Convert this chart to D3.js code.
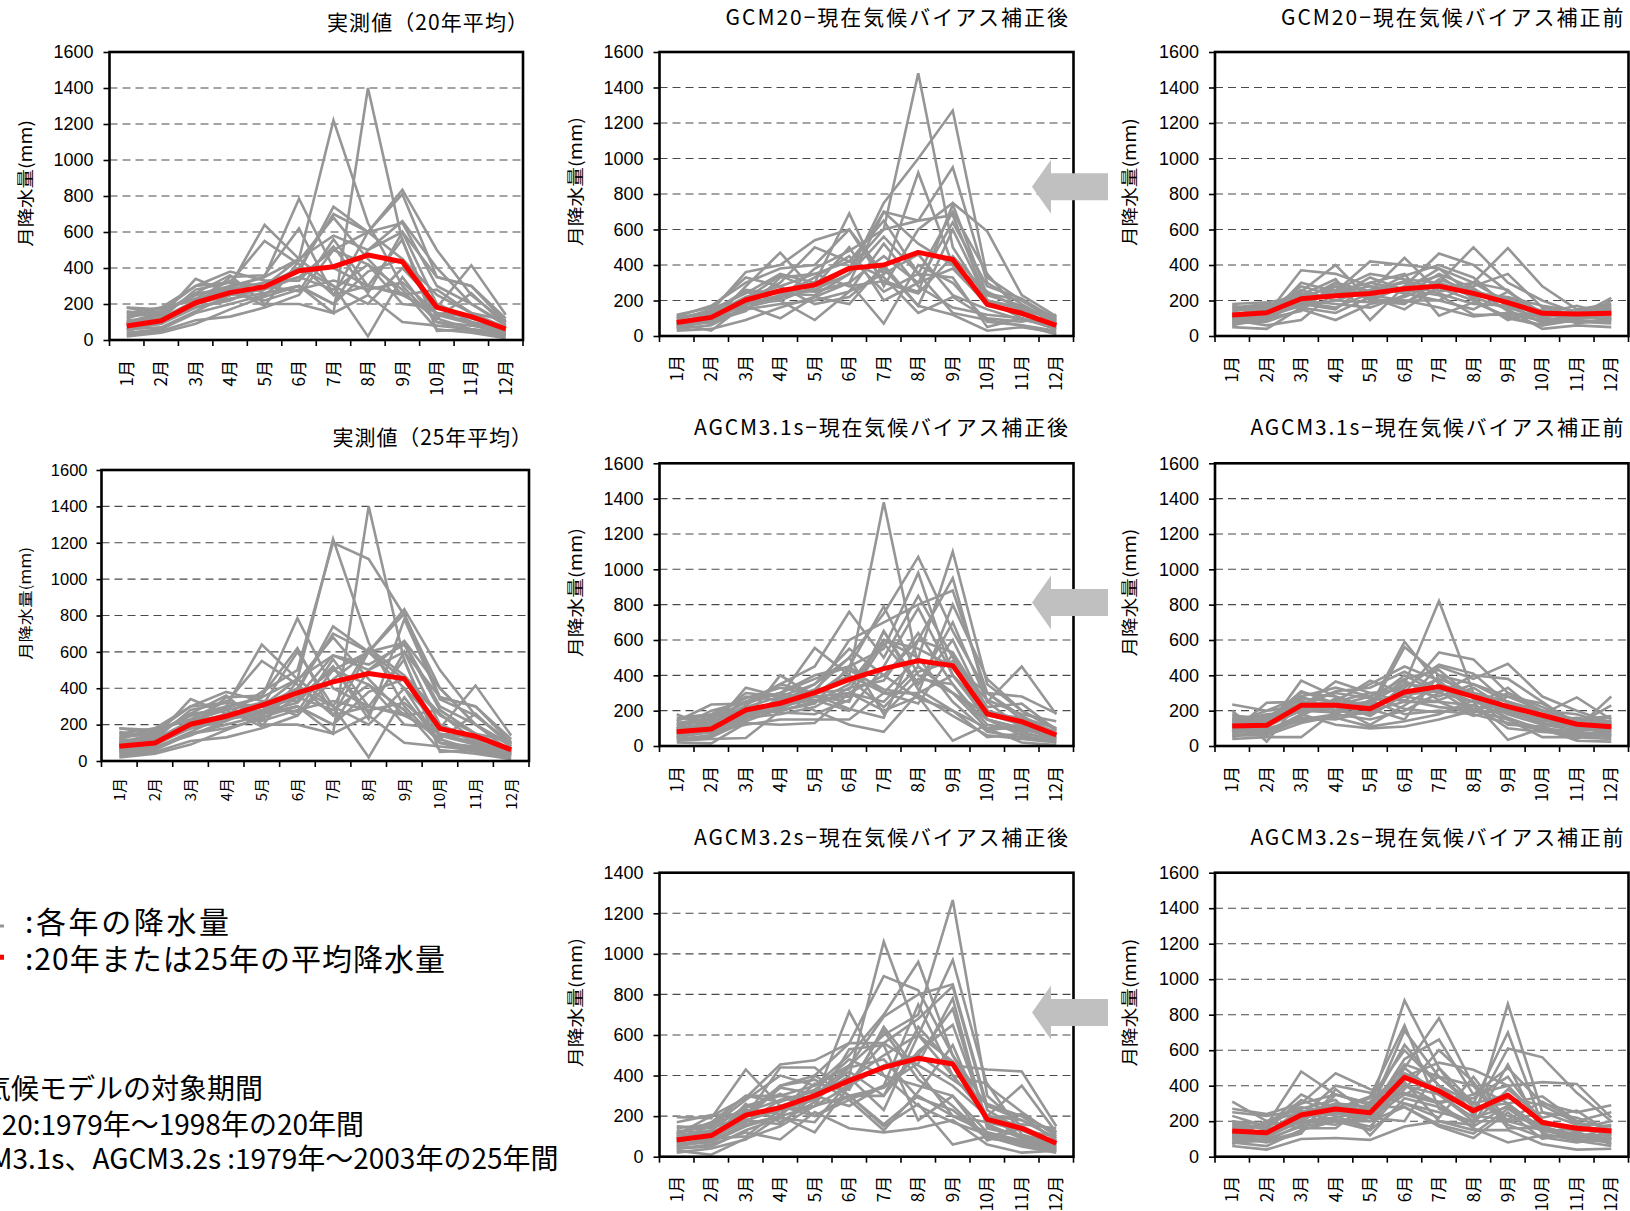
<!DOCTYPE html>
<html><head><meta charset="utf-8">
<script src="https://cdn.jsdelivr.net/npm/d3@7"></script>
<style>
html,body{margin:0;padding:0;background:#fff;overflow:hidden}
svg{display:block}
</style></head><body>
<svg id="fig" width="1630" height="1211"></svg>
<script>
// ---- categories and tick labels ----
const months = ["1月","2月","3月","4月","5月","6月","7月","8月","9月","10月","11月","12月"];
const yTicks1600 = [0,200,400,600,800,1000,1200,1400,1600];
const yTicks1400 = [0,200,400,600,800,1000,1200,1400];
const yAxisTitle = "月降水量(mm)";

// ---- 実測値 1979–2003 (monthly precipitation, mm); first 20 rows = 1979–1998 ----
const observedYears = [
  [60,90,180,230,260,300,150,1400,550,120,60,30],
  [50,100,200,250,300,450,1220,650,300,100,80,40],
  [90,120,220,300,350,785,400,300,250,150,100,50],
  [100,150,250,300,640,450,300,200,400,200,100,60],
  [120,180,300,320,550,420,250,600,650,300,200,80],
  [70,90,200,250,280,350,500,600,835,500,250,100],
  [80,100,180,220,300,400,700,600,810,350,300,120],
  [130,150,250,290,350,450,580,500,660,400,200,90],
  [150,180,220,280,320,380,740,600,450,250,150,70],
  [40,60,150,200,250,400,300,20,350,100,50,20],
  [110,120,280,320,300,350,280,420,200,180,415,140],
  [180,170,230,330,260,300,200,500,600,350,300,100],
  [180,150,260,360,200,200,150,250,100,80,60,30],
  [160,130,340,260,220,280,330,280,320,150,130,50],
  [30,50,110,130,180,250,500,420,280,60,40,10],
  [20,40,90,170,240,300,200,380,450,140,90,40],
  [100,110,190,350,360,620,250,300,260,120,260,80],
  [60,70,160,250,300,270,560,300,560,50,60,40],
  [140,160,300,380,330,330,520,260,600,200,120,70],
  [90,140,260,280,190,440,680,450,250,280,150,110],
  [80,100,220,250,380,500,1200,1110,800,400,200,50],
  [50,70,150,180,230,350,580,530,640,280,150,60],
  [120,110,200,260,300,600,300,620,470,260,110,40],
  [70,80,140,220,320,250,450,600,400,100,70,30],
  [100,130,180,230,270,320,520,230,780,340,250,90]
];
const observedMean20 = [78,107,207,263,296,385,407,472,435,181,130,61];
const observedMean25 = [81,99,202,246,306,374,435,481,453,178,136,62];

// ---- GCM20 (1979–1998) ----
const gcm20Corrected = [
  [60,90,200,250,300,380,600,1480,500,200,100,50],
  [80,120,180,220,260,350,750,1000,1270,330,200,80],
  [100,140,360,400,540,600,350,920,400,250,150,90],
  [50,80,280,470,250,300,700,650,950,300,180,70],
  [90,150,240,350,300,690,280,600,750,590,230,110],
  [70,110,200,300,500,420,650,350,700,350,120,60],
  [40,60,160,210,380,480,600,650,680,200,150,50],
  [110,170,300,380,400,600,300,240,450,240,200,100],
  [60,100,180,200,90,250,520,280,160,120,100,40],
  [30,40,90,160,220,300,70,400,300,80,60,30],
  [120,160,330,280,350,420,330,130,220,100,80,120],
  [80,100,170,100,220,180,400,170,120,30,50,20],
  [70,110,190,260,250,300,450,300,640,280,210,90],
  [50,90,150,180,200,250,350,460,230,150,90,60],
  [100,130,250,200,280,500,200,300,380,180,120,80],
  [90,70,210,340,260,380,700,520,400,170,140,110],
  [60,80,140,330,350,280,310,250,740,230,170,70],
  [40,130,260,240,230,350,560,350,330,50,100,40],
  [110,120,220,280,180,220,380,170,600,200,160,100],
  [70,30,180,230,330,450,250,350,130,90,60,10]
];
const gcm20CorrectedMean = [76,105,203,255,288,381,400,471,431,178,128,60];

const gcm20Raw = [
  [80,120,370,350,280,250,300,500,300,200,130,150],
  [120,150,250,400,200,280,465,400,250,120,100,130],
  [60,100,300,250,420,400,380,300,495,280,150,180],
  [150,170,200,300,250,440,250,280,350,160,120,100],
  [100,130,180,150,300,260,380,230,200,100,80,90],
  [180,190,220,280,230,200,200,300,260,90,110,140],
  [70,80,150,90,180,220,300,220,150,40,60,50],
  [130,110,170,200,260,300,240,180,170,130,170,120],
  [90,60,90,250,300,350,115,190,110,60,90,200],
  [50,40,160,130,220,150,280,260,180,120,100,110],
  [110,140,230,320,90,280,340,210,90,150,70,100],
  [140,160,260,200,190,200,160,110,130,110,130,160],
  [160,180,190,260,350,320,300,240,220,170,140,150],
  [100,90,200,180,160,230,350,270,140,80,80,70],
  [75,130,280,230,250,310,270,200,100,60,120,90],
  [120,100,140,300,200,180,320,250,210,140,110,130],
  [90,150,210,240,280,240,200,150,250,130,90,80],
  [60,120,190,160,240,340,400,330,160,100,140,170],
  [170,140,240,220,330,260,230,120,120,90,100,110],
  [110,170,160,280,210,190,270,300,190,70,110,215]
];
const gcm20RawMean = [118,131,210,227,240,266,281,240,188,128,124,128];

// ---- AGCM3.1s (1979–2003) ----
const agcm31Corrected = [
  [80,100,200,250,300,400,1380,450,300,150,100,50],
  [100,130,220,280,350,500,750,1070,650,300,150,80],
  [60,90,180,200,250,350,600,500,1100,350,200,90],
  [120,150,250,300,400,450,550,980,400,200,120,60],
  [70,110,190,230,280,300,400,600,950,250,100,40],
  [50,80,160,220,300,600,700,800,880,300,170,70],
  [90,120,230,350,450,760,500,850,500,200,150,60],
  [140,235,240,300,380,450,790,400,300,180,120,50],
  [180,100,330,280,555,400,300,300,800,380,200,100],
  [40,60,150,400,280,250,650,350,700,250,450,180],
  [30,40,45,200,250,300,200,280,30,120,80,30],
  [110,150,300,280,200,120,80,300,400,150,100,60],
  [100,200,250,350,300,320,600,550,450,300,280,185],
  [60,80,120,150,150,150,300,240,520,150,60,20],
  [20,15,130,120,130,300,250,450,300,100,20,5],
  [150,170,280,260,320,500,180,380,350,120,90,70],
  [80,90,200,230,260,280,580,350,600,200,130,40],
  [120,140,200,200,240,450,300,500,250,80,50,30],
  [90,70,180,250,350,550,400,270,200,50,70,40],
  [70,130,250,300,260,200,450,780,400,180,160,100],
  [130,160,210,190,180,260,650,320,200,100,120,80],
  [50,110,170,270,310,380,220,420,480,260,180,140],
  [160,180,270,330,290,210,160,600,530,220,240,90],
  [100,120,160,180,220,330,370,640,350,90,110,60],
  [40,50,140,210,290,430,320,290,170,60,40,20]
];
const agcm31CorrectedMean = [81,96,204,242,302,377,438,483,455,181,138,62];

const agcm31Raw = [
  [100,120,250,230,250,350,820,300,250,200,120,100],
  [130,150,300,280,220,590,350,300,200,150,100,80],
  [90,110,200,250,200,560,400,350,250,180,130,120],
  [150,100,370,280,200,300,530,490,300,200,150,140],
  [120,140,220,365,300,250,450,380,465,280,200,130],
  [235,200,230,250,370,300,380,300,250,180,275,150],
  [80,245,250,200,180,350,330,250,200,150,100,280],
  [40,50,50,200,250,400,300,400,380,250,120,230],
  [200,25,260,180,150,200,300,250,35,100,30,25],
  [60,80,180,120,100,110,150,200,150,100,80,60],
  [110,130,210,230,280,380,430,270,150,50,50,70],
  [170,160,280,200,230,280,250,170,220,130,110,110],
  [90,70,150,180,260,180,200,180,130,90,60,80],
  [140,180,190,220,120,230,350,200,300,220,140,160],
  [70,110,230,310,330,420,320,280,180,120,90,90],
  [100,90,160,150,200,250,250,230,100,80,70,50],
  [180,130,270,250,300,320,280,350,280,200,180,120],
  [60,60,130,170,190,330,460,410,240,160,100,100],
  [120,170,240,300,270,260,220,200,190,140,160,130],
  [50,90,170,270,210,150,400,270,120,110,50,40],
  [160,140,310,240,170,290,310,190,280,240,130,140],
  [80,120,200,190,240,370,260,330,210,120,110,90],
  [130,200,280,330,280,210,190,230,330,170,150,170],
  [110,100,140,160,110,140,180,260,160,90,40,110],
  [150,150,210,260,350,450,370,210,230,160,120,60]
];
const agcm31RawMean = [113,117,230,230,211,306,336,279,223,174,123,109];

// ---- AGCM3.2s (1979–2003) ----
const agcm32Corrected = [
  [80,100,200,250,300,450,600,700,1265,300,150,60],
  [60,90,180,230,280,400,1060,600,400,200,100,40],
  [100,130,250,300,350,500,700,960,500,250,200,80],
  [70,110,220,280,320,380,500,600,970,350,220,100],
  [90,120,200,350,400,560,890,820,500,200,150,70],
  [120,150,280,400,350,450,690,800,850,250,180,90],
  [50,80,160,200,250,350,450,500,730,150,100,50],
  [140,160,300,300,280,715,400,350,300,120,80,40],
  [195,190,430,250,200,300,300,640,450,430,420,150],
  [110,200,290,455,475,560,560,450,350,200,350,120],
  [30,10,90,150,250,300,150,260,60,100,50,20],
  [40,60,120,85,220,140,120,140,180,60,20,30],
  [80,100,170,280,300,250,350,750,400,360,110,60],
  [150,140,200,440,440,300,160,300,200,170,130,100],
  [60,70,150,200,120,350,620,380,250,90,70,30],
  [100,120,180,160,300,420,300,520,650,180,210,110],
  [170,205,210,350,380,280,130,320,550,160,90,50],
  [50,90,100,230,250,530,550,180,300,80,140,70],
  [20,40,85,200,360,330,640,420,200,120,60,30],
  [90,150,240,310,200,280,350,460,780,140,100,80],
  [120,80,260,170,270,440,480,290,230,90,160,140],
  [70,120,190,340,310,390,230,600,470,200,180,90],
  [110,170,300,270,330,480,400,250,170,110,70,40],
  [40,50,130,190,170,370,560,680,840,230,130,60],
  [130,110,230,210,400,300,340,500,380,260,200,120]
];
const agcm32CorrectedMean = [82,104,205,242,301,375,440,485,457,184,140,66];

const agcm32Raw = [
  [150,130,250,300,280,880,500,300,350,200,150,140],
  [120,140,220,250,230,400,350,200,860,250,180,120],
  [180,160,300,350,300,500,780,400,300,150,130,100],
  [100,120,200,220,260,710,450,300,700,180,160,130],
  [310,200,250,280,250,550,660,350,400,200,150,150],
  [140,110,200,300,280,630,400,250,610,560,360,200],
  [200,180,480,350,300,450,530,490,400,420,410,220],
  [270,240,300,470,380,350,300,350,500,300,250,290],
  [80,60,150,200,150,300,250,200,200,150,100,80],
  [60,40,100,105,95,170,200,150,150,70,40,45],
  [120,90,180,250,200,400,300,160,80,120,110,160],
  [160,180,200,180,280,280,170,105,250,100,140,180],
  [90,100,170,200,220,350,450,280,300,340,200,100],
  [200,150,230,400,360,300,220,450,200,250,220,150],
  [130,200,280,230,150,500,350,220,280,170,120,90],
  [110,80,130,380,240,420,200,180,520,130,90,60],
  [230,170,350,260,330,600,400,300,230,180,160,200],
  [70,150,190,210,170,380,600,420,180,110,80,110],
  [170,130,270,320,120,330,280,190,380,220,260,130],
  [100,200,160,160,310,470,380,250,330,290,190,170],
  [140,120,210,290,260,520,450,400,160,160,120,120],
  [250,230,260,200,200,280,180,130,270,140,160,140],
  [80,90,140,350,290,360,310,330,450,190,140,70],
  [190,160,320,240,220,200,500,230,210,310,200,250],
  [130,110,240,270,340,740,270,170,290,160,110,100]
];
const agcm32RawMean = [145,135,235,269,248,447,370,259,347,193,160,145];

// ---- panel titles and notes ----
const panelTitles = [
  "実測値（20年平均）",
  "GCM20−現在気候バイアス補正後",
  "GCM20−現在気候バイアス補正前",
  "実測値（25年平均）",
  "AGCM3.1s−現在気候バイアス補正後",
  "AGCM3.1s−現在気候バイアス補正前",
  "AGCM3.2s−現在気候バイアス補正後",
  "AGCM3.2s−現在気候バイアス補正前"
];
const legendLabels = [":各年の降水量", ":20年または25年の平均降水量"];
const periodNotes = [
  "・気候モデルの対象期間",
  "・GCM20:1979年～1998年の20年間",
  "・AGCM3.1s、AGCM3.2s :1979年～2003年の25年間"
];

// ---- styles ----
const NUM_FONT = "'Liberation Sans', Arial, sans-serif";
const JP_FONT = "'Noto Sans CJK JP', 'Noto Sans CJK SC', sans-serif";
const GRAY = "#969696", RED = "#ff0000";

// ---- layout of the eight panels ----
const colA = [109.5, 523], colB = [659.5, 1073.5], colC = [1215, 1628.5];
const panels = [
  { t: 0, years: observedYears.slice(0, 20), mean: observedMean20, ticks: yTicks1600,
    xr: colA, yr: [52, 340], title: [327, 528, 20.7], yt: [24, 183.3, 127],
    nf: 18, xf: 17, ytf: 17, tick: 6, pad: 10, xgap: 20 },
  { t: 1, years: gcm20Corrected, mean: gcm20CorrectedMean, ticks: yTicks1600,
    xr: colB, yr: [52, 336], title: [725.6, 1068, 16], yt: [574, 181.5, 129],
    nf: 18, xf: 17, ytf: 17, tick: 6, pad: 10, xgap: 19 },
  { t: 2, years: gcm20Raw, mean: gcm20RawMean, ticks: yTicks1600,
    xr: colC, yr: [52, 336], title: [1281, 1623.5, 16], yt: [1128.7, 182, 128],
    nf: 18, xf: 17, ytf: 17, tick: 6, pad: 10, xgap: 20 },
  { t: 3, years: observedYears, mean: observedMean25, ticks: yTicks1600,
    xr: [101.5, 529], yr: [470, 761], title: [332.6, 532, 436], yt: [24, 603.3, 113],
    nf: 16.5, xf: 15, ytf: 15, tick: 5, pad: 9, xgap: 17 },
  { t: 4, years: agcm31Corrected, mean: agcm31CorrectedMean, ticks: yTicks1600,
    xr: colB, yr: [463.3, 746], title: [694, 1068, 426], yt: [574, 592.5, 129],
    nf: 18, xf: 17, ytf: 17, tick: 6, pad: 10, xgap: 20 },
  { t: 5, years: agcm31Raw, mean: agcm31RawMean, ticks: yTicks1600,
    xr: colC, yr: [463.3, 746], title: [1250.4, 1623.5, 426], yt: [1128.7, 592.5, 128],
    nf: 18, xf: 17, ytf: 17, tick: 6, pad: 10, xgap: 20 },
  { t: 6, years: agcm32Corrected, mean: agcm32CorrectedMean, ticks: yTicks1400,
    xr: colB, yr: [872.7, 1156.7], title: [694, 1068, 836], yt: [574, 1002.5, 129],
    nf: 18, xf: 17, ytf: 17, tick: 6, pad: 10, xgap: 19 },
  { t: 7, years: agcm32Raw, mean: agcm32RawMean, ticks: yTicks1600,
    xr: colC, yr: [872.7, 1156.7], title: [1250.4, 1623.5, 836], yt: [1128.7, 1002.5, 128],
    nf: 18, xf: 17, ytf: 17, tick: 6, pad: 10, xgap: 19 }
];

const svg = d3.select("#fig");
svg.append("rect").attr("width", 1630).attr("height", 1211).attr("fill", "#fff");

panels.forEach(p => {
  const [L, R] = p.xr, [T, B] = p.yr;
  const yMax = p.ticks[p.ticks.length - 1];
  const x = d3.scaleBand().domain(months).range([L, R]);
  const cx = m => x(m) + x.bandwidth() / 2;
  const y = d3.scaleLinear().domain([0, yMax]).range([B, T]);
  const g = svg.append("g");

  // dashed horizontal grid
  g.selectAll(".grid").data(p.ticks.filter(v => v > 0 && v < yMax)).join("line")
    .attr("x1", L).attr("x2", R).attr("y1", d => y(d)).attr("y2", d => y(d))
    .attr("stroke", "#4a4a4a").attr("stroke-width", 1.1).attr("stroke-dasharray", "8,5");

  const line = d3.line().x((d, i) => cx(months[i])).y(d => y(d));

  // each year
  g.selectAll(".yr").data(p.years).join("path")
    .attr("d", line).attr("fill", "none")
    .attr("stroke", GRAY).attr("stroke-width", 2.6).attr("stroke-linejoin", "miter");

  // period mean
  g.append("path").datum(p.mean).attr("d", line).attr("fill", "none")
    .attr("stroke", RED).attr("stroke-width", 5).attr("stroke-linejoin", "round");

  // plot frame
  g.append("rect").attr("x", L).attr("y", T).attr("width", R - L).attr("height", B - T)
    .attr("fill", "none").attr("stroke", "#000").attr("stroke-width", 2.6);

  // y axis
  const yg = g.append("g").attr("transform", `translate(${L},0)`)
    .call(d3.axisLeft(y).tickValues(p.ticks).tickSize(p.tick).tickPadding(p.pad).tickFormat(d3.format("d")));
  yg.select(".domain").remove();
  yg.selectAll(".tick line").attr("stroke", "#000").attr("stroke-width", 1.6);
  yg.selectAll(".tick text").attr("font-family", NUM_FONT).attr("font-size", p.nf).attr("fill", "#000");

  // x axis: labels at band centres, ticks at band edges
  const xg = g.append("g").attr("transform", `translate(0,${B})`)
    .call(d3.axisBottom(x).tickSize(0));
  xg.select(".domain").remove();
  xg.selectAll(".tick text")
    .attr("transform", "rotate(-90)").attr("text-anchor", "end")
    .attr("x", -p.xgap).attr("y", 0).attr("dy", "0.36em")
    .attr("font-family", JP_FONT).attr("font-size", p.xf).attr("fill", "#000");
  const edges = months.map(m => x(m)).concat([x.range()[1]]);
  g.selectAll(".xedge").data(edges).join("line")
    .attr("x1", d => d).attr("x2", d => d).attr("y1", B).attr("y2", B + 6)
    .attr("stroke", "#000").attr("stroke-width", 1.6);

  // panel title
  g.append("text").attr("x", p.title[0]).attr("y", p.title[2])
    .attr("dominant-baseline", "central")
    .attr("textLength", p.title[1] - p.title[0]).attr("lengthAdjust", "spacing")
    .attr("font-family", JP_FONT).attr("font-size", 21).attr("fill", "#000")
    .text(panelTitles[p.t]);

  // y axis title
  g.append("text").attr("transform", `translate(${p.yt[0]},${p.yt[1]}) rotate(-90)`)
    .attr("text-anchor", "middle").attr("dominant-baseline", "central")
    .attr("textLength", p.yt[2]).attr("lengthAdjust", "spacingAndGlyphs")
    .attr("font-family", JP_FONT).attr("font-size", p.ytf).attr("fill", "#000")
    .text(yAxisTitle);
});

// block arrows between the corrected and uncorrected columns
[186.7, 602.5, 1012.5].forEach(cy => {
  const pts = [[1108, cy - 13.5], [1051, cy - 13.5], [1051, cy - 27], [1032, cy],
               [1051, cy + 27], [1051, cy + 13.5], [1108, cy + 13.5]];
  svg.append("polygon").attr("points", pts.map(d => d.join(",")).join(" "))
    .attr("fill", "#c0c0c0");
});

// legend
const legendRows = [
  { y: 920, ly: 926, color: GRAY, w: 3, len: 204 },
  { y: 957, ly: 957.3, color: RED, w: 5, len: 420 }
];
legendRows.forEach((r, i) => {
  svg.append("line").attr("x1", -30).attr("x2", 4).attr("y1", r.ly).attr("y2", r.ly)
    .attr("stroke", r.color).attr("stroke-width", r.w);
  svg.append("text").attr("x", 25).attr("y", r.y).attr("dominant-baseline", "central")
    .attr("textLength", r.len).attr("lengthAdjust", "spacing")
    .attr("font-family", JP_FONT).attr("font-size", 30).attr("fill", "#000")
    .text(legendLabels[i]);
});

// notes on the model periods
[[263, 1086.7], [364, 1123], [558.5, 1157]].forEach((pos, i) => {
  svg.append("text").attr("x", pos[0]).attr("y", pos[1]).attr("text-anchor", "end")
    .attr("dominant-baseline", "central")
    .attr("font-family", JP_FONT).attr("font-size", 28).attr("fill", "#000")
    .text(periodNotes[i]);
});
</script>
</body></html>
